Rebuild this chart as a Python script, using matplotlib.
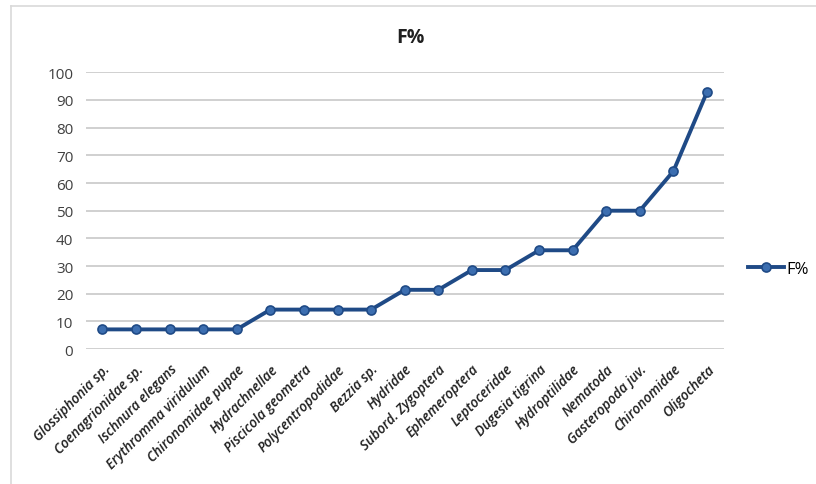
import matplotlib
matplotlib.use("Agg")
import matplotlib.pyplot as plt
from matplotlib.lines import Line2D

taxa = ["Glossiphonia sp.", "Coenagrionidae sp.", "Ischnura elegans",
        "Erythromma viridulum", "Chironomidae pupae", "Hydrachnellae",
        "Piscicola geometra", "Polycentropodidae", "Bezzia sp.", "Hydridae",
        "Subord. Zygoptera", "Ephemeroptera", "Leptoceridae", "Dugesia tigrina",
        "Hydroptilidae", "Nematoda", "Gasteropoda juv.", "Chironomidae",
        "Oligocheta"]
freq = [7.14, 7.14, 7.14, 7.14, 7.14, 14.29, 14.29, 14.29, 14.29, 21.43,
        21.43, 28.57, 28.57, 35.71, 35.71, 50.0, 50.0, 64.29, 92.86]
y_ticks = [0, 10, 20, 30, 40, 50, 60, 70, 80, 90, 100]

plt.rcParams['font.family'] = ['Open Sans', 'DejaVu Sans']

fig = plt.figure(figsize=(8.16, 4.85), dpi=100)
fig.patch.set_facecolor("white")

# chart-area border (top and left edges)
border = dict(transform=fig.transFigure, color="#d9d9d9", linewidth=1.2)
fig.add_artist(Line2D([0.0135, 1.0], [0.985, 0.985], **border))
fig.add_artist(Line2D([0.0135, 0.0135], [0.0, 0.985], **border))

ax = fig.add_axes([0.105, 0.278, 0.782, 0.571])
x = list(range(len(taxa)))
line, = ax.plot(x, freq, color="#1f4a86", linewidth=2.8, marker="o",
                markersize=6.5, markerfacecolor="#3c6eb0",
                markeredgecolor="#1f4a86", markeredgewidth=1.2, label="F%",
                zorder=3)

ax.set_ylim(0, 100)
ax.set_xlim(-0.5, len(taxa) - 0.5)
ax.set_yticks(y_ticks)
ax.set_yticklabels([str(v) for v in y_ticks], fontsize=11, color="#404040")
ax.set_xticks(x)
ax.set_xticklabels(taxa, rotation=45, ha="right", rotation_mode="anchor",
                   fontsize=9.8, fontstyle="italic", fontweight="semibold",
                   color="#202020")
ax.tick_params(axis="x", length=0, pad=9)
ax.tick_params(axis="y", length=0, pad=9)
ax.grid(axis="y", color="#c8c8c8", linewidth=1.2)
ax.set_axisbelow(True)
for s in ax.spines.values():
    s.set_visible(False)

fig.text(0.503, 0.921, "F%", ha="center", va="center", fontsize=14,
         fontweight="bold", color="#202020")

fig.legend(handles=[line], loc="center left", bbox_to_anchor=(0.898, 0.443),
           frameon=False, fontsize=12, handlelength=2.2, handletextpad=0.1)

fig.savefig("out.png", dpi=100)
